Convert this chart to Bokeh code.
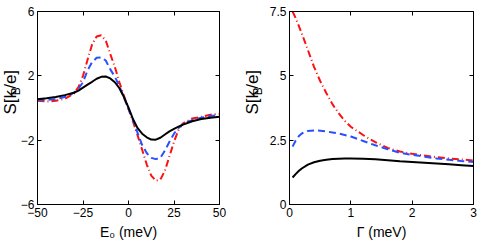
import math
from bokeh.plotting import figure
from bokeh.layouts import row
from bokeh.models import FixedTicker, LinearAxis, Range1d
from bokeh.core.properties import value
from bokeh.embed import file_html
from bokeh.resources import INLINE

# ---------------- data ----------------
E0 = [-50, -45, -40, -35, -30, -27.5, -25, -22.5, -20, -17.5, -15, -12.5, -10,
      -7.5, -5, -2.5, 0, 2.5, 5, 7.5, 10, 12.5, 15, 17.5, 20, 22.5, 25, 27.5,
      30, 35, 40, 45, 50]
S_E_black = [0.54, 0.6, 0.68, 0.8, 0.95, 1.08, 1.27, 1.45, 1.63, 1.82, 1.94, 1.96, 1.84,
             1.6, 1.23, 0.68, 0.02, -0.7, -1.25, -1.6, -1.82, -1.96, -1.97, -1.85, -1.65,
             -1.45, -1.3, -1.16, -1.03, -0.82, -0.68, -0.6, -0.54]
S_E_blue = [0.5, 0.5, 0.55, 0.68, 0.95, 1.2, 1.6, 2.35, 2.85, 3.12, 3.15, 2.95, 2.4,
            1.95, 1.35, 0.65, -0.05, -0.75, -1.55, -2.3, -2.8, -3.1, -3.18, -3.1, -2.65,
            -2.1, -1.6, -1.25, -0.98, -0.75, -0.6, -0.5, -0.42]
S_E_red = [0.45, 0.4, 0.45, 0.57, 0.9, 1.3, 2.0, 3.0, 3.95, 4.45, 4.52, 4.2, 3.35,
           2.55, 1.6, 0.75, -0.05, -0.85, -1.7, -2.6, -3.5, -4.2, -4.52, -4.45, -3.9,
           -3.0, -2.1, -1.35, -0.95, -0.65, -0.55, -0.42, -0.36]

Gamma = [0.05, 0.1, 0.15, 0.2, 0.3, 0.4, 0.5, 0.6, 0.7, 0.8, 0.9, 1.0, 1.2, 1.4,
         1.6, 1.8, 2.0, 2.2, 2.4, 2.6, 2.8, 3.0]
S_G_black = [1.05, 1.18, 1.3, 1.4, 1.55, 1.64, 1.7, 1.74, 1.77, 1.78, 1.79, 1.79, 1.78,
             1.76, 1.72, 1.68, 1.65, 1.62, 1.59, 1.56, 1.53, 1.5]
S_G_blue = [2.25, 2.48, 2.65, 2.76, 2.86, 2.88, 2.87, 2.84, 2.8, 2.76, 2.7, 2.64, 2.47,
            2.3, 2.15, 2.01, 1.93, 1.86, 1.79, 1.74, 1.69, 1.65]
S_G_red = [7.5, 7.25, 6.95, 6.65, 6.0, 5.35, 4.8, 4.33, 3.9, 3.55, 3.25, 3.02, 2.7,
           2.42, 2.2, 2.06, 1.97, 1.9, 1.84, 1.79, 1.75, 1.71]

left_xticks = [-50, -25, 0, 25, 50]
left_xlabels = ["\u221250", "\u221225", "0", "25", "50"]
left_yticks = [-6, -2, 2, 6]
left_ylabels = ["\u22126", "\u22122", "2", "6"]
right_xticks = [0, 1, 2, 3]
right_xlabels = ["0", "1", "2", "3"]
right_yticks = [0, 2.5, 5, 7.5]
right_ylabels = ["0", "2.5", "5", "7.5"]

FONT = "Liberation Sans"
RED = "#ff1010"
BLUE = "#2850ff"
H = 245


def style_axis(ax, ticks, labels, show_labels=True):
    ax.ticker = FixedTicker(ticks=ticks)
    if show_labels:
        ax.major_label_overrides = dict(zip(ticks, labels))
        ax.major_label_text_font_size = "12px"
        ax.major_label_standoff = 3
    else:
        ax.major_label_overrides = {t: "" for t in ticks}
        ax.major_label_text_font_size = "0px"
        ax.major_label_standoff = 0
    ax.major_tick_in = 4
    ax.major_tick_out = 0
    ax.minor_tick_line_color = None
    ax.axis_line_color = "black"
    ax.major_tick_line_color = "black"
    ax.major_label_text_font = FONT
    ax.major_label_text_color = "black"
    ax.axis_label_text_font = FONT
    ax.axis_label_text_font_size = "14px"
    ax.axis_label_text_font_style = "normal"
    ax.axis_label_text_color = "black"
    ax.axis_label_standoff = 4


def make_fig(width, mbl, mbr, xr, yr, xt, xl, yt, yl, xlabel):
    p = figure(width=width, height=H, output_backend="svg", toolbar_location=None,
               x_range=Range1d(*xr), y_range=Range1d(*yr),
               min_border_left=mbl, min_border_right=mbr,
               min_border_top=11, min_border_bottom=41)
    p.grid.visible = False
    p.outline_line_color = "black"
    p.background_fill_color = "white"
    p.border_fill_color = None
    style_axis(p.xaxis[0], xt, xl)
    style_axis(p.yaxis[0], yt, yl)
    p.xaxis[0].axis_label = xlabel
    top = LinearAxis()
    style_axis(top, xt, xl, show_labels=False)
    p.add_layout(top, "above")
    right = LinearAxis()
    style_axis(right, yt, yl, show_labels=False)
    p.add_layout(right, "right")
    return p


def label_fig(width, overlap, cx, cy_page):
    """Strip holding the rotated y label S[k_B/e]; the next plot overlaps it."""
    q = figure(width=width, height=H, output_backend="svg", toolbar_location=None,
               x_range=Range1d(0, width), y_range=Range1d(0, H),
               x_axis_type=None, y_axis_type=None, min_border=0,
               margin=(0, -overlap, 0, 0))
    q.grid.visible = False
    q.outline_line_color = None
    q.background_fill_color = None
    q.border_fill_color = None
    big, small = 17, 12
    w1 = (0.667 + 0.278 + 0.5) * big
    w2 = 0.667 * small
    w3 = (0.278 + 0.556 + 0.278) * big
    total = w1 + w2 + w3
    cy = H - cy_page
    start = cy - total / 2
    pieces = [("S[k", big, cx, start),
              ("B", small, cx + 5.5, start + w1),
              ("/e]", big, cx, start + w1 + w2)]
    for txt, fs, x, y in pieces:
        q.text(x=[x], y=[y], text=[txt], angle=math.pi / 2, text_align="left",
               text_baseline="middle", text_font=value(FONT),
               text_font_size=value(f"{fs}px"), text_color="black")
    return q


lab1 = label_fig(26, 9, 10, 105)
p1 = make_fig(223, 18, 21, (-50, 50), (-6, 6), left_xticks, left_xlabels,
              left_yticks, left_ylabels, "E\u2080 (meV)")
p1.line(E0, S_E_red, line_color=RED, line_width=2, line_dash="7 3 1 3")
p1.line(E0, S_E_blue, line_color=BLUE, line_width=2, line_dash="7 4")
p1.line(E0, S_E_black, line_color="black", line_width=2)

lab2 = label_fig(28, 6, 12, 105)
p2 = make_fig(218, 27, 7, (0, 3), (0, 7.5), right_xticks, right_xlabels,
              right_yticks, right_ylabels, "\u0393 (meV)")
p2.line(Gamma, S_G_red, line_color=RED, line_width=2, line_dash="7 3 1 3")
p2.line(Gamma, S_G_blue, line_color=BLUE, line_width=2, line_dash="7 4")
p2.line(Gamma, S_G_black, line_color="black", line_width=2)

layout = row(lab1, p1, lab2, p2, margin=(0, 0, 0, 0), background="white")

open("out.html", "w").write(file_html(layout, INLINE))
